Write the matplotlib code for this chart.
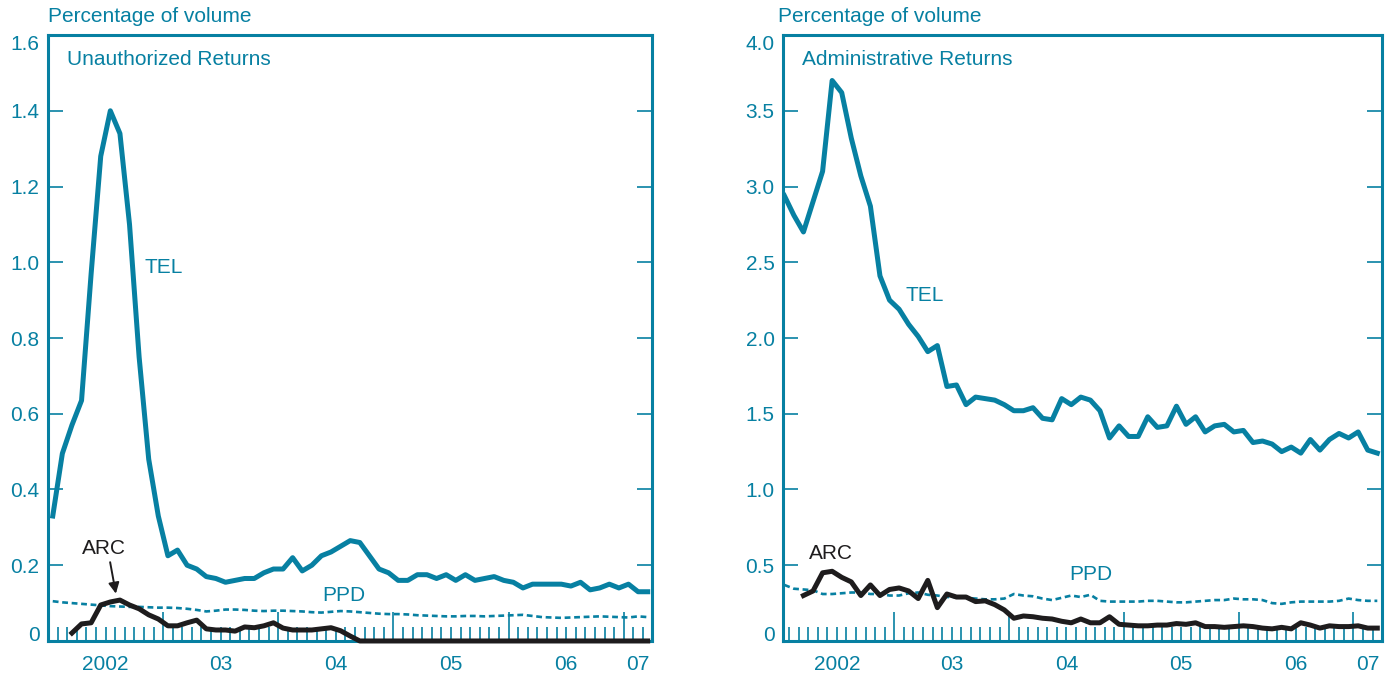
import matplotlib.pyplot as plt
import numpy as np
import pandas as pd
from matplotlib.ticker import FixedLocator, NullFormatter

TEAL = '#0780A2'
DARK = '#1E1C1D'

plt.rcParams['font.family'] = ['Liberation Sans', 'DejaVu Sans']

# monthly observations, Jan 2002 - Mar 2007
months = pd.date_range('2002-01-01', '2007-03-01', freq='MS')
year_labels = ['2002', '03', '04', '05', '06', '07']

# Unauthorized returns (percentage of volume)
unauth_tel = [0.33, 0.495, 0.57, 0.635, 0.97, 1.28, 1.40, 1.34, 1.10, 0.75, 0.48, 0.33,
              0.225, 0.24, 0.20, 0.19, 0.17, 0.165, 0.155, 0.16, 0.165, 0.165, 0.18, 0.19,
              0.19, 0.22, 0.185, 0.20, 0.225, 0.235, 0.25, 0.265, 0.26, 0.225, 0.19, 0.18,
              0.16, 0.16, 0.175, 0.175, 0.165, 0.175, 0.16, 0.175, 0.16, 0.165, 0.17, 0.16,
              0.155, 0.14, 0.15, 0.15, 0.15, 0.15, 0.145, 0.155, 0.135, 0.14, 0.15, 0.14,
              0.15, 0.13, 0.13]
unauth_ppd = [0.105, 0.102, 0.100, 0.098, 0.096, 0.094, 0.092, 0.091, 0.090, 0.090, 0.089, 0.088,
              0.088, 0.087, 0.085, 0.082, 0.078, 0.080, 0.083, 0.083, 0.082, 0.080, 0.079, 0.080,
              0.080, 0.079, 0.078, 0.076, 0.075, 0.077, 0.079, 0.078, 0.076, 0.074, 0.072, 0.071,
              0.071, 0.070, 0.068, 0.067, 0.066, 0.065, 0.065, 0.066, 0.066, 0.065, 0.066, 0.067,
              0.068, 0.069, 0.066, 0.063, 0.062, 0.061, 0.062, 0.063, 0.064, 0.065, 0.064, 0.063,
              0.062, 0.065, 0.063]
# ARC series begins March 2002
unauth_arc = [0.021, 0.045, 0.048, 0.095, 0.103, 0.108, 0.095, 0.085, 0.069, 0.058,
              0.040, 0.040, 0.048, 0.055, 0.032, 0.029, 0.029, 0.026, 0.037, 0.035, 0.040, 0.048,
              0.034, 0.029, 0.029, 0.029, 0.032, 0.035, 0.027, 0.013, 0.0, 0.0, 0.0, 0.0,
              0.0, 0.0, 0.0, 0.0, 0.0, 0.0, 0.0, 0.0, 0.0, 0.0, 0.0, 0.0,
              0.0, 0.0, 0.0, 0.0, 0.0, 0.0, 0.0, 0.0, 0.0, 0.0, 0.0, 0.0,
              0.0, 0.0, 0.0]

# Administrative returns (percentage of volume)
admin_tel = [2.94, 2.81, 2.70, 2.90, 3.10, 3.70, 3.62, 3.32, 3.07, 2.87, 2.41, 2.25,
             2.19, 2.09, 2.01, 1.91, 1.95, 1.68, 1.69, 1.56, 1.61, 1.60, 1.59, 1.56,
             1.52, 1.52, 1.54, 1.47, 1.46, 1.60, 1.56, 1.61, 1.59, 1.52, 1.34, 1.42,
             1.35, 1.35, 1.48, 1.41, 1.42, 1.55, 1.43, 1.48, 1.38, 1.42, 1.43, 1.38,
             1.39, 1.31, 1.32, 1.30, 1.25, 1.28, 1.24, 1.33, 1.26, 1.33, 1.37, 1.34,
             1.38, 1.26, 1.24]
admin_ppd = [0.37, 0.345, 0.34, 0.335, 0.31, 0.31, 0.315, 0.32, 0.32, 0.31, 0.31, 0.30,
             0.30, 0.315, 0.32, 0.305, 0.30, 0.29, 0.29, 0.285, 0.28, 0.275, 0.275, 0.28,
             0.31, 0.30, 0.295, 0.28, 0.27, 0.285, 0.30, 0.29, 0.305, 0.265, 0.26, 0.26,
             0.26, 0.26, 0.265, 0.265, 0.26, 0.255, 0.255, 0.26, 0.265, 0.27, 0.27, 0.28,
             0.275, 0.275, 0.27, 0.25, 0.245, 0.255, 0.26, 0.26, 0.26, 0.26, 0.265, 0.28,
             0.27, 0.265, 0.265]
admin_arc = [0.30, 0.33, 0.45, 0.46, 0.42, 0.39, 0.30, 0.37, 0.30, 0.34,
             0.35, 0.33, 0.28, 0.40, 0.22, 0.31, 0.29, 0.29, 0.26, 0.265, 0.24, 0.205,
             0.15, 0.165, 0.16, 0.15, 0.145, 0.13, 0.12, 0.145, 0.12, 0.12, 0.16, 0.11,
             0.105, 0.10, 0.10, 0.105, 0.105, 0.115, 0.11, 0.12, 0.095, 0.095, 0.09, 0.095,
             0.10, 0.095, 0.085, 0.08, 0.09, 0.08, 0.12, 0.105, 0.085, 0.10, 0.095, 0.095,
             0.10, 0.085, 0.085]

# x positions: mid-month in decimal years, ticks at month starts
xm = months.year + (months.month - 0.5) / 12
month_ticks = months.year + (months.month - 1) / 12
year_ticks = [2003, 2004, 2005, 2006, 2007]


def draw_panel(ax, tel, ppd, arc, yticks, ylabels, xlim, title):
    ax.plot(xm, ppd, color=TEAL, lw=1.9, dashes=(2.2, 1.4))
    ax.plot(xm[2:], arc, color=DARK, lw=3.6, zorder=3, clip_on=False)
    ax.plot(xm, tel, color=TEAL, lw=3.6, zorder=3)

    ax.set_xlim(*xlim)
    ax.set_ylim(yticks[0], yticks[-1])

    ax.xaxis.set_major_locator(FixedLocator(year_ticks))
    ax.xaxis.set_minor_locator(FixedLocator(month_ticks))
    ax.xaxis.set_major_formatter(NullFormatter())
    ax.tick_params(axis='x', which='major', direction='in', length=21, width=1.2, color=TEAL)
    ax.tick_params(axis='x', which='minor', direction='in', length=10, width=1.2, color=TEAL)

    ax.set_yticks(yticks)
    ax.set_yticklabels(ylabels)
    ax.tick_params(axis='y', which='major', direction='in', length=11, width=1.2,
                   color=TEAL, labelcolor=TEAL, labelsize=15, pad=6, left=True, right=True)
    labs = ax.get_yticklabels()
    labs[0].set_va('baseline')
    labs[-1].set_va('top')

    for s in ax.spines.values():
        s.set_color(TEAL)
        s.set_linewidth(2.2)

    # year labels centred on each year
    label_pos = [2002.5, 2003.5, 2004.5, 2005.5, 2006.5, (2007 + xlim[1]) / 2]
    for p, t in zip(label_pos, year_labels):
        ax.text(p, -0.039, t, transform=ax.get_xaxis_transform(), ha='center',
                va='center', color=TEAL, fontsize=15)

    ax.text(0.031, 0.960, title, transform=ax.transAxes, ha='left', va='center',
            color=TEAL, fontsize=15)


fig = plt.figure(figsize=(13.9, 6.74), dpi=100)
ax1 = fig.add_axes([0.0345, 0.049, 0.4345, 0.899])
ax2 = fig.add_axes([0.5633, 0.049, 0.431, 0.899])

draw_panel(ax1, unauth_tel, unauth_ppd, unauth_arc,
           [0, 0.2, 0.4, 0.6, 0.8, 1.0, 1.2, 1.4, 1.6],
           ['0', '0.2', '0.4', '0.6', '0.8', '1.0', '1.2', '1.4', '1.6'],
           (2002.0, 2007.245), 'Unauthorized Returns')
draw_panel(ax2, admin_tel, admin_ppd, admin_arc,
           [0, 0.5, 1.0, 1.5, 2.0, 2.5, 3.0, 3.5, 4.0],
           ['0', '0.5', '1.0', '1.5', '2.0', '2.5', '3.0', '3.5', '4.0'],
           (2002.03, 2007.25), 'Administrative Returns')

# series labels
ax1.text(2002.835, 0.985, 'TEL', color=TEAL, fontsize=15, ha='left', va='center')
ax1.text(2004.38, 0.119, 'PPD', color=TEAL, fontsize=15, ha='left', va='center')
ax1.text(2002.49, 0.243, 'ARC', color=DARK, fontsize=15, ha='center', va='center')
ax1.annotate('', xy=(2002.59, 0.125), xytext=(2002.54, 0.208),
             arrowprops=dict(arrowstyle='-|>', color=DARK, lw=1.4, mutation_scale=16,
                             shrinkA=0, shrinkB=0))

ax2.text(2003.095, 2.28, 'TEL', color=TEAL, fontsize=15, ha='left', va='center')
ax2.text(2004.52, 0.437, 'PPD', color=TEAL, fontsize=15, ha='left', va='center')
ax2.text(2002.45, 0.58, 'ARC', color=DARK, fontsize=15, ha='center', va='center')

fig.text(0.0345, 0.975, 'Percentage of volume', color=TEAL, fontsize=15, ha='left', va='center')
fig.text(0.5597, 0.975, 'Percentage of volume', color=TEAL, fontsize=15, ha='left', va='center')

fig.savefig('out.png', dpi=100)
